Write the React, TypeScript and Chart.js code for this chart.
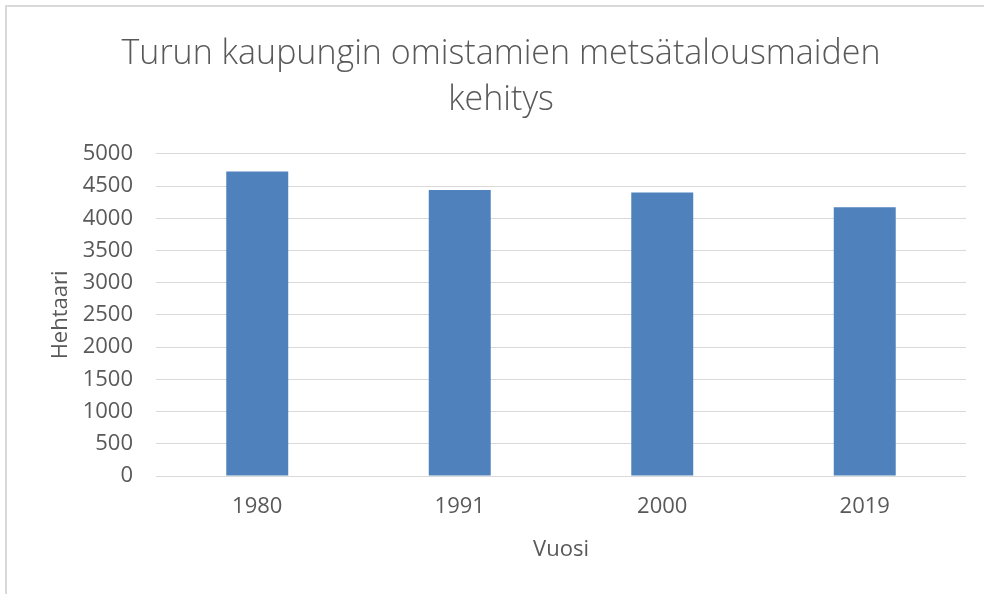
import React, { useEffect, useRef } from "react";
import { Chart, registerables } from "chart.js";

Chart.register(...registerables);

const categories = ["1980", "1991", "2000", "2019"];
const hehtaari = [4724, 4439, 4398, 4171];
const titleLines = ["Turun kaupungin omistamien metsätalousmaiden", "kehitys"];
const yTitle = "Hehtaari";
const xTitle = "Vuosi";

export default function App() {
  const ref = useRef<HTMLCanvasElement | null>(null);
  useEffect(() => {
    if (!ref.current) return;
    const chart = new Chart(ref.current, {
      type: "bar",
      data: {
        labels: categories,
        datasets: [
          {
            data: hehtaari,
            backgroundColor: "#4f81bd",
            barPercentage: 0.306,
            categoryPercentage: 1,
          },
        ],
      },
      options: {
        animation: false,
        responsive: false,
        maintainAspectRatio: false,
        layout: { padding: { left: 36, right: 18, top: 0, bottom: 31 } },
        plugins: {
          legend: { display: false },
          tooltip: { enabled: false },
          title: {
            display: true,
            text: titleLines,
            color: "#595959",
            font: { family: "Open Sans", size: 34, weight: "300", lineHeight: 1.35 },
            padding: { top: 31, bottom: 31 },
          },
        },
        scales: {
          x: {
            grid: { display: false, drawTicks: false },
            border: { display: false },
            ticks: {
              color: "#595959",
              font: { family: "Open Sans", size: 22 },
              padding: 18,
            },
            title: {
              display: true,
              text: xTitle,
              color: "#595959",
              font: { family: "Open Sans", size: 22 },
              padding: { top: 16, bottom: 0 },
            },
            afterFit: (s: any) => {
              s.height = 87;
            },
          },
          y: {
            min: 0,
            max: 5000,
            grid: { color: "#d9d9d9", lineWidth: 1, drawTicks: false },
            border: { display: false },
            ticks: {
              stepSize: 500,
              color: "#595959",
              font: { family: "Open Sans", size: 22 },
              padding: 23,
              callback: (v: any) => String(v),
            },
            title: {
              display: true,
              text: yTitle,
              color: "#595959",
              font: { family: "Open Sans", size: 22 },
              padding: { top: 12, bottom: 0 },
            },
            afterFit: (s: any) => {
              s.width = 120;
            },
          },
        },
      },
    });
    return () => chart.destroy();
  }, []);
  return (
    <div style={{ position: "fixed", left: 0, top: 0, width: 984, height: 594, background: "#fff" }}>
      <canvas ref={ref} width={984} height={594} style={{ position: "absolute", left: 0, top: 0 }} />
      <div
        style={{
          position: "absolute",
          left: 5,
          top: 5,
          width: 979,
          height: 589,
          borderTop: "2px solid #d9d9d9",
          borderLeft: "2px solid #d9d9d9",
          boxSizing: "border-box",
          pointerEvents: "none",
        }}
      />
    </div>
  );
}
